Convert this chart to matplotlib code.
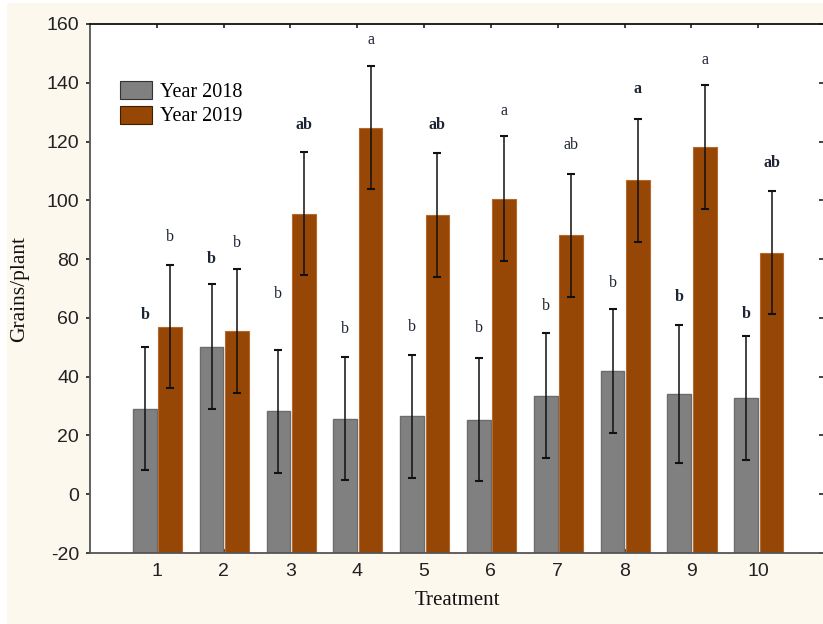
import numpy as np
import matplotlib.pyplot as plt
from matplotlib.patches import Patch, Rectangle

plt.rcParams['axes.unicode_minus'] = False

# grains per plant by treatment, two seasons
treatments = [1, 2, 3, 4, 5, 6, 7, 8, 9, 10]
mean_2018 = [29.1, 50.2, 28.2, 25.7, 26.5, 25.4, 33.5, 42.0, 34.0, 32.8]
err_2018 = [21.0, 21.2, 21.0, 21.0, 21.0, 21.0, 21.2, 21.0, 23.5, 21.0]
mean_2019 = [57.0, 55.5, 95.5, 124.7, 95.0, 100.6, 88.1, 106.8, 118.1, 82.2]
err_2019 = [21.0, 21.0, 21.0, 21.0, 21.0, 21.2, 21.0, 21.0, 21.0, 21.0]
letters_2018 = ['b', 'b', 'b', 'b', 'b', 'b', 'b', 'b', 'b', 'b']
letters_2019 = ['b', 'b', 'ab', 'a', 'ab', 'a', 'ab', 'a', 'a', 'ab']

# small per-bar nudges for the letter positions
gap_2018 = [11, 8.5, 19, 9.5, 9.5, 10, 9.5, 9, 9.5, 7.5]
gap_2019 = [9.5, 9, 9, 8.7, 9.5, 8.6, 9.7, 10, 8.7, 9.5]
bold_2018 = [True, True, False, False, False, False, False, False, True, True]
bold_2019 = [False, False, True, False, True, False, False, True, False, True]

cream = '#fcf8ed'
gray = '#808080'
brown = '#964705'
ink = '#1d2433'
serif = ['Liberation Serif', 'DejaVu Serif']
sans = ['Liberation Sans', 'DejaVu Sans']

fig = plt.figure(figsize=(8.23, 6.24), dpi=100, facecolor='white')
fig.patches.append(Rectangle((7 / 823, 0), 1, 1 - 3 / 624, transform=fig.transFigure,
                             facecolor=cream, edgecolor='none', zorder=-10))

ax = fig.add_axes([90 / 823, 71 / 624, 735 / 823, 529 / 624])
ax.set_facecolor('white')

x = np.array(treatments, dtype=float)
base = -20
w = 0.355
x18 = x - 0.18
x19 = x + 0.20

ax.bar(x18, np.array(mean_2018) - base, bottom=base, width=w,
       color=gray, edgecolor='#6c6c6c', linewidth=1.0, zorder=2)
ax.bar(x19, np.array(mean_2019) - base, bottom=base, width=w,
       color=brown, edgecolor='#b5692c', linewidth=0.8, zorder=2)

for xs, m, e in [(x18, mean_2018, err_2018), (x19, mean_2019, err_2019)]:
    ax.errorbar(xs, m, yerr=e, fmt='none', ecolor='#111111', elinewidth=1.1,
                capsize=2.6, capthick=1.5, zorder=3)

for xs, m, e, lab, gap, bold in [(x18, mean_2018, err_2018, letters_2018, gap_2018, bold_2018),
                                 (x19, mean_2019, err_2019, letters_2019, gap_2019, bold_2019)]:
    for xi, mi, ei, li, gi, bi in zip(xs, m, e, lab, gap, bold):
        ax.text(xi, mi + ei + gi, li, ha='center', va='center', fontsize=11.5,
                family=serif, color=ink, fontweight='bold' if bi else 'normal')

ax.set_xlim(0, 11)
ax.set_ylim(-20, 160)
ax.set_xticks(treatments)
ax.set_yticks(np.arange(-20, 161, 20))
ax.tick_params(axis='x', direction='in', length=3, width=1.2, top=True,
               labelsize=14, pad=7, colors='#222222')
ax.tick_params(axis='y', direction='out', length=3, width=1.2, labelsize=14, pad=5,
               colors='#222222')
ax.tick_params(axis='y', which='both', right=True)
for lab in ax.get_xticklabels() + ax.get_yticklabels():
    lab.set_family(sans)
for t in ax.yaxis.get_major_ticks():
    t.tick2line.set_marker(0)  # right side ticks point inward
    t.tick2line.set_markersize(4)

for side in ['left', 'bottom']:
    ax.spines[side].set_color('#555555')
    ax.spines[side].set_linewidth(1.3)
ax.spines['top'].set_color('#111111')
ax.spines['top'].set_linewidth(1.3)
ax.spines['right'].set_visible(False)

ax.set_xlabel('Treatment', family=serif, fontsize=15, labelpad=8, color='#111111')
ax.set_ylabel('Grains/plant', family=serif, fontsize=15.5, labelpad=12, color='#111111')

handles = [Patch(facecolor=gray, edgecolor='#333333', linewidth=0.8),
           Patch(facecolor=brown, edgecolor='#3a2000', linewidth=0.8)]
ax.legend(handles, ['Year 2018', 'Year 2019'], loc='upper left',
          bbox_to_anchor=(0.041, 0.893), frameon=False, borderpad=0, borderaxespad=0,
          handlelength=1.6, handleheight=1.0, handletextpad=0.4, labelspacing=0.2,
          prop={'family': serif, 'size': 14.5})

fig.savefig('out.png', dpi=100, facecolor=fig.get_facecolor())
